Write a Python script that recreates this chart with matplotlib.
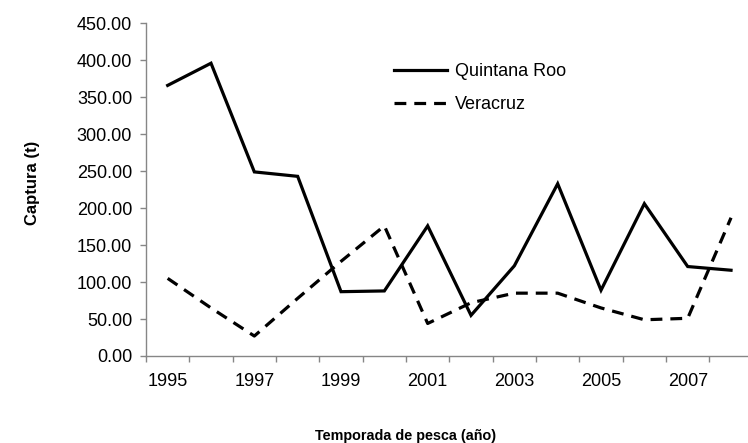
import matplotlib
matplotlib.use('Agg')
import matplotlib.pyplot as plt
import numpy as np

plt.rcParams['font.family'] = ['Liberation Sans', 'DejaVu Sans']

# Temporadas y captura (t)
years = [1995, 1996, 1997, 1998, 1999, 2000, 2001, 2002, 2003, 2004, 2005, 2006, 2007, 2008]
quintanaRoo = [366, 396, 249, 243, 87, 88, 176, 55, 122, 233, 89, 206, 121, 116]
veracruz = [105, 65, 27, 78, 128, 176, 44, 72, 85, 85, 65, 49, 51, 187]
yTicks = [0, 50, 100, 150, 200, 250, 300, 350, 400, 450]

W, H = 748, 443
fig = plt.figure(figsize=(W / 100, H / 100), dpi=100)
ax = fig.add_axes([146 / W, 87 / H, 606.7 / W, 332.7 / H])

x = np.arange(len(years))
ax.plot(x, quintanaRoo, color='black', linewidth=2.3, label='Quintana Roo',
        solid_joinstyle='miter')
ax.plot(x, veracruz, color='black', linewidth=2.3, linestyle=(0, (3.7, 2.5)),
        label='Veracruz')

ax.set_xlim(-0.5, len(years) - 0.5)
ax.set_ylim(0, 450)

grey = '#868686'
for side in ['top', 'right']:
    ax.spines[side].set_visible(False)
for side in ['left', 'bottom']:
    ax.spines[side].set_color(grey)
    ax.spines[side].set_linewidth(1.0)

ax.set_yticks(yTicks)
ax.set_yticklabels([f'{v:.2f}' for v in yTicks])
ax.tick_params(axis='y', length=4, color=grey, width=1.0, labelsize=13, pad=6)

# marcas entre categorías, etiquetas cada dos años
ax.set_xticks(np.arange(-0.5, len(years)))
ax.set_xticklabels([])
ax.tick_params(axis='x', which='major', length=4, color=grey, width=1.0)
ax.set_xticks(x[::2], minor=True)
ax.set_xticklabels([str(y) for y in years[::2]], minor=True)
ax.tick_params(axis='x', which='minor', length=0, labelsize=13, pad=12)

fig.text(33 / W, 1 - 183 / H, 'Captura (t)', rotation=90, fontsize=12,
         fontweight='bold', ha='center', va='center')
fig.text(406 / W, 1 - 436 / H, 'Temporada de pesca (año)', fontsize=10.4,
         fontweight='bold', ha='center', va='center')

ax.legend(loc='upper left', bbox_to_anchor=(394 / W, 1 - 63 / H),
          bbox_transform=fig.transFigure, frameon=False, fontsize=13,
          handlelength=2.95, handletextpad=0.45, labelspacing=0.9,
          borderpad=0, borderaxespad=0)

fig.savefig('out.png', dpi=100)
